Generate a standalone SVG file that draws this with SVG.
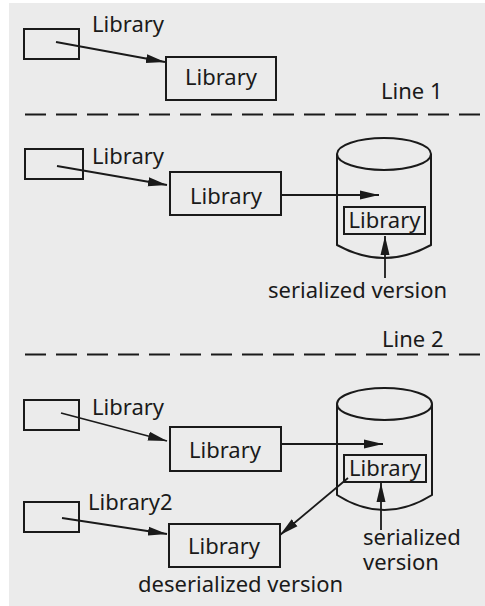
<svg xmlns="http://www.w3.org/2000/svg" width="485" height="606" viewBox="0 0 485 606">
<style>
.box{fill:none;stroke:#1a1a1a;stroke-width:2}
.ln{fill:none;stroke:#1a1a1a;stroke-width:1.8}
.dash{stroke:#1a1a1a;stroke-width:2.2;stroke-dasharray:21 10}
text{font-family:"Noto Sans","Open Sans",sans-serif;font-size:22px;fill:#1a1a1a}
.c{text-anchor:middle}
</style>
<defs>
<marker id="ah" markerUnits="userSpaceOnUse" markerWidth="20" markerHeight="10" refX="19" refY="5" orient="auto">
<path d="M0,0.5 L19,5 L0,9.5 z" fill="#1a1a1a"/>
</marker>
</defs>
<rect x="9" y="3" width="476" height="603" fill="#ebebeb"/>

<g id="sec1-src"><rect class="box" x="24" y="29" width="55" height="30"/><text x="92" y="32">Library</text></g>
<g id="sec1-lib"><rect class="box" x="166" y="57" width="110" height="43"/><text class="c" x="221" y="85">Library</text></g>
<g id="line1"><text x="381" y="99">Line 1</text><line class="dash" x1="25" y1="114.5" x2="485" y2="114.5"/></g>

<g id="sec2-src"><rect class="box" x="25" y="149" width="58" height="30"/><text x="92" y="164">Library</text></g>
<g id="sec2-lib"><rect class="box" x="170" y="172" width="111" height="43"/><text class="c" x="226" y="204">Library</text></g>
<g id="sec2-db">
<path class="box" d="M337,154 L337,245 Q384,271 431,245 L431,154"/>
<ellipse class="box" cx="384" cy="154" rx="47" ry="16"/>
<rect class="box" x="344" y="207" width="81" height="27"/>
<text class="c" x="384.5" y="228">Library</text>
</g>
<g id="sec2-ser"><text x="268" y="298">serialized version</text></g>
<g id="line2"><text x="382" y="347">Line 2</text><line class="dash" x1="25" y1="354.5" x2="485" y2="354.5"/></g>

<g id="sec3-src"><rect class="box" x="24" y="400" width="55" height="30"/><text x="92" y="415">Library</text></g>
<g id="sec3-lib"><rect class="box" x="170" y="427" width="111" height="44"/><text class="c" x="225" y="458">Library</text></g>
<g id="sec3-db">
<path class="box" d="M337,404 L337,495 Q384,525 432,495 L432,404"/>
<ellipse class="box" cx="384.5" cy="404" rx="47.5" ry="16"/>
<rect class="box" x="344" y="455" width="82" height="27"/>
<text class="c" x="385" y="476">Library</text>
</g>
<g id="sec3-ser"><text x="363" y="545">serialized</text><text x="363" y="570">version</text></g>
<g id="sec3-src2"><rect class="box" x="24" y="502" width="55" height="30"/><text x="88" y="510">Library2</text></g>
<g id="sec3-deser"><rect class="box" x="169" y="524" width="111" height="43"/><text class="c" x="224" y="554">Library</text><text x="138" y="592">deserialized version</text></g>

<g id="connectors">
<line class="ln" x1="56" y1="42" x2="165" y2="62" marker-end="url(#ah)"/>
<line class="ln" x1="57" y1="166" x2="167" y2="185" marker-end="url(#ah)"/>
<line class="ln" x1="282" y1="195" x2="379" y2="195" marker-end="url(#ah)"/>
<line class="ln" x1="385" y1="278" x2="385" y2="236" marker-end="url(#ah)"/>
<line class="ln" x1="61" y1="413" x2="167" y2="441" marker-end="url(#ah)"/>
<line class="ln" x1="281" y1="444" x2="383" y2="444" marker-end="url(#ah)"/>
<line class="ln" x1="381" y1="530" x2="381" y2="483" marker-end="url(#ah)"/>
<line class="ln" x1="348" y1="478" x2="280" y2="535" marker-end="url(#ah)"/>
<line class="ln" x1="62" y1="518" x2="167" y2="534" marker-end="url(#ah)"/>
</g>
</svg>
